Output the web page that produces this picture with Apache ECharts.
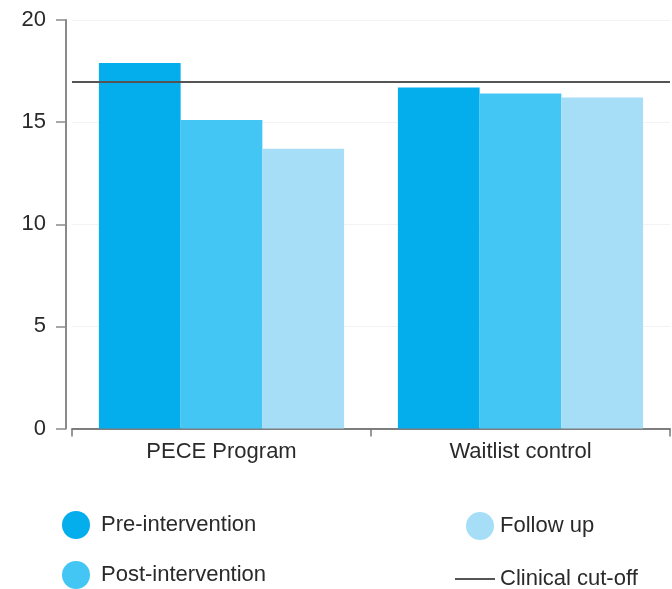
<!DOCTYPE html>
<html>
<head>
<meta charset="utf-8">
<script src="https://cdn.jsdelivr.net/npm/echarts@6/dist/echarts.min.js"></script>
<style>html,body{margin:0;padding:0;background:#fff;}#c{width:672px;height:589px;}</style>
</head>
<body>
<div id="c"></div>
<script>
const categories = ['PECE Program', 'Waitlist control'];
const preValues = [17.9, 16.7];
const postValues = [15.1, 16.4];
const followValues = [13.7, 16.2];
const cutoffValue = 17;
const seriesNames = ['Pre-intervention', 'Post-intervention', 'Follow up', 'Clinical cut-off'];
const yMin = 0, yMax = 20, yInterval = 5;

const font = "'Liberation Sans', Arial, sans-serif";
const textColor = '#2a2a2a';
const colors = ['#04ADEC', '#44C6F5', '#A6DEF8'];

const chart = echarts.init(document.getElementById('c'));
chart.setOption({
  animation: false,
  textStyle: { fontFamily: font },
  grid: { left: 72, right: 2, top: 20, bottom: 160.5, containLabel: false },
  xAxis: {
    type: 'category',
    data: categories,
    axisLine: { show: true, lineStyle: { color: '#555', width: 1.5 } },
    axisTick: { show: true, length: 8, lineStyle: { color: '#777', width: 1.5 } },
    axisLabel: { fontSize: 22, color: textColor, margin: 12, fontFamily: font },
    splitLine: { show: false }
  },
  yAxis: {
    type: 'value',
    min: yMin, max: yMax, interval: yInterval,
    offset: 6,
    axisLine: { show: true, lineStyle: { color: '#8a8a8a', width: 2 } },
    axisTick: { show: true, length: 10, lineStyle: { color: '#8a8a8a', width: 1.5 } },
    axisLabel: { fontSize: 22, color: textColor, margin: 20, fontFamily: font },
    splitLine: { show: true, lineStyle: { color: '#f3f3f3', width: 1 } }
  },
  legend: [
    {
      data: [seriesNames[0], seriesNames[1]],
      orient: 'vertical',
      left: 62, top: 511, padding: 0,
      itemWidth: 40, itemHeight: 28, itemGap: 22,
      icon: 'circle',
      textStyle: { fontSize: 22, color: textColor, fontFamily: font },
      selectedMode: false
    },
    {
      data: [
        { name: seriesNames[2], icon: 'path://M0,13.99L0,14.01M24,0A14,14 0 1,1 23.99,0Z' },
        { name: seriesNames[3], icon: 'path://M0,0H36V2H0Z' }
      ],
      orient: 'vertical',
      left: 455, top: 512, padding: 0,
      itemWidth: 40, itemHeight: 28, itemGap: 28,
      textStyle: { fontSize: 22, color: textColor, fontFamily: font },
      selectedMode: false
    }
  ],
  series: [
    { name: seriesNames[0], type: 'bar', data: preValues, itemStyle: { color: colors[0] }, barGap: '0%', barCategoryGap: '18%' },
    { name: seriesNames[1], type: 'bar', data: postValues, itemStyle: { color: colors[1] } },
    { name: seriesNames[2], type: 'bar', data: followValues, itemStyle: { color: colors[2] } },
    {
      name: seriesNames[3], type: 'line', data: [], symbol: 'none',
      lineStyle: { color: '#555', width: 2 },
      itemStyle: { color: '#555' },
      markLine: {
        silent: true,
        symbol: ['none', 'none'],
        label: { show: false },
        lineStyle: { color: '#555', width: 2, type: 'solid' },
        data: [{ yAxis: cutoffValue }]
      }
    }
  ]
});
</script>
</body>
</html>
